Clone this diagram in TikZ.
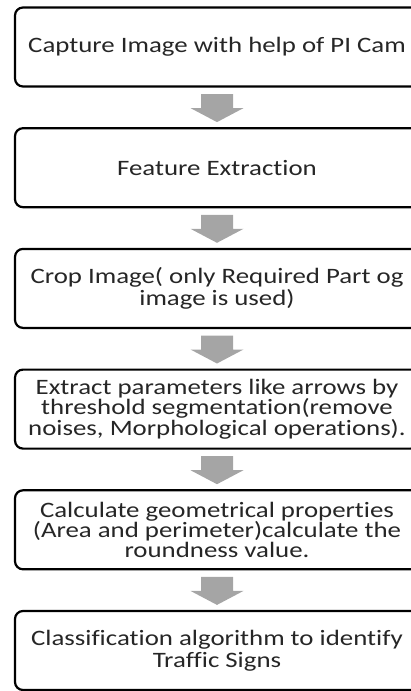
\documentclass[tikz,border=0pt]{standalone}
\usepackage{fontspec}
\setmainfont{Carlito}[FakeStretch=1.22,Ligatures=NoCommon]
\usetikzlibrary{calc}
\definecolor{arrowgray}{HTML}{A5A5A5}
\definecolor{textdark}{HTML}{262626}
\begin{document}
\begin{tikzpicture}[x=1pt,y=-1pt,
  stepbox/.style={draw=black, line width=2.2pt, rounded corners=8pt,
    minimum width=404pt, minimum height=79pt, inner sep=0pt, align=center,
    font=\fontsize{22}{20.5}\selectfont, text=textdark},
  flowarrow/.style={fill=arrowgray, draw=none}]
\useasboundingbox (0,0) rectangle (411,691);
\clip (0,0) rectangle (411,691);
\node[stepbox] (b1) at (217,47) {Capture Image with help of PI Cam};
\node[stepbox] (b2) at (217,167.7) {Feature Extraction};
\node[stepbox, font=\fontsize{22}{22}\selectfont] (b3) at (217,288.4) {Crop Image( only Required Part og\\image is used)};
\node[stepbox, font=\fontsize{22}{18.8}\selectfont] (b4) at (217,409.1) {Extract parameters like arrows by\\threshold segmentation(remove\\noises, Morphological operations).};
\node[stepbox, font=\fontsize{22}{20}\selectfont] (b5) at (217,529.8) {Calculate geometrical properties\\(Area and perimeter)calculate the\\roundness value.};
\node[stepbox, font=\fontsize{22}{22}\selectfont] (b6) at (217,650.5) {Classification algorithm to identify\\Traffic Signs};
\foreach \a/\b in {b1/b2,b2/b3,b3/b4,b4/b5,b5/b6}
  \fill[flowarrow] ($(\a.south)+(-16,6.5)$) -- ($(\a.south)+(16,6.5)$)
    -- ($(\a.south)+(16,20.5)$) -- ($(\a.south)+(26.5,20.5)$)
    -- ($(\b.north)+(0,-5)$) -- ($(\a.south)+(-26.5,20.5)$)
    -- ($(\a.south)+(-16,20.5)$) -- cycle;
\end{tikzpicture}
\end{document}
